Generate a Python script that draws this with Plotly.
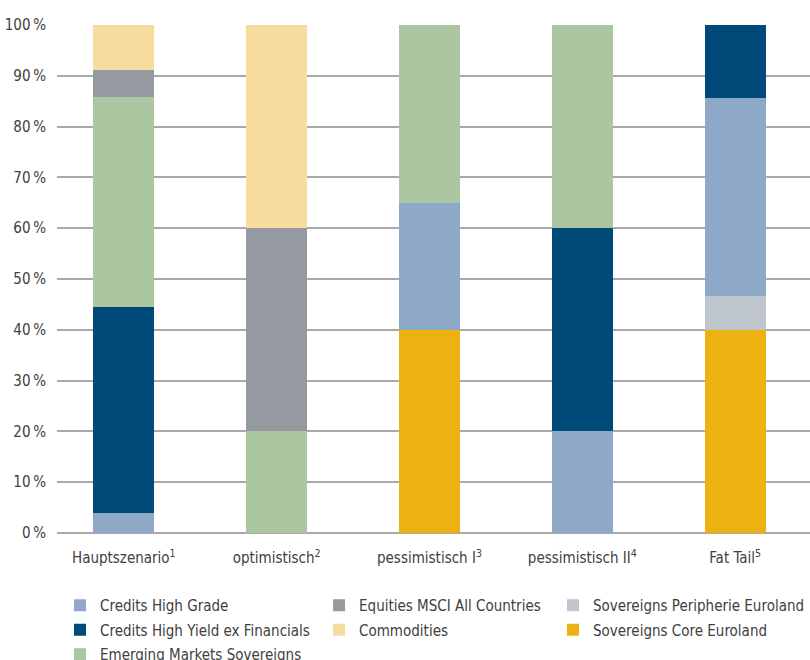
import plotly.graph_objects as go

categories = ["Hauptszenario<sup>1</sup>", "optimistisch<sup>2</sup>", "pessimistisch I<sup>3</sup>",
              "pessimistisch II<sup>4</sup>", "Fat Tail<sup>5</sup>"]

# values in percent, per scenario (same order as categories)
sov_core = [0, 0, 40, 0, 40]
sov_periph = [0, 0, 0, 0, 6.7]
credits_hg = [4, 0, 25, 20, 39]
credits_hy = [40.4, 0, 0, 40, 14.3]
em_sov = [41.5, 20, 35, 40, 0]
equities = [5.3, 40, 0, 0, 0]
commodities = [8.8, 40, 0, 0, 0]

y_ticks = [0, 10, 20, 30, 40, 50, 60, 70, 80, 90, 100]
y_tick_labels = [f"{v}\u2009%" for v in y_ticks]

FONT = "DejaVu Sans Condensed, Liberation Sans Narrow, sans-serif"
TXT = "#404040"

series = [
    # name, values, color, legend, rank
    ("Sovereigns Core Euroland", sov_core, "#edb212", "legend3", 2),
    ("Sovereigns Peripherie Euroland", sov_periph, "#bec5cc", "legend3", 1),
    ("Credits High Grade", credits_hg, "#8ea8c8", "legend", 1),
    ("Credits High Yield ex Financials", credits_hy, "#004a7a", "legend", 2),
    ("Emerging Markets Sovereigns", em_sov, "#abc6a0", "legend", 3),
    ("Equities MSCI All Countries", equities, "#949a9f", "legend2", 1),
    ("Commodities", commodities, "#f7dca0", "legend2", 2),
]

fig = go.Figure()
for name, vals, color, leg, rank in series:
    fig.add_trace(go.Bar(
        x=categories, y=vals, name=name, width=0.4,
        marker=dict(color=color, line=dict(width=0)),
        legend=leg, legendrank=rank, legendgroup=name, hoverinfo="skip",
    ))

legend_common = dict(
    orientation="v", xanchor="left", yanchor="top",
    yref="container", y=0.1076, xref="paper",
    traceorder="grouped", tracegroupgap=2,
    font=dict(family=FONT, size=15, color=TXT),
    bgcolor="rgba(0,0,0,0)", borderwidth=0,
    itemclick=False, itemdoubleclick=False,
)

fig.update_layout(
    width=810, height=660,
    margin=dict(l=57, r=0, t=25, b=127),
    barmode="stack",
    paper_bgcolor="white", plot_bgcolor="white",
    font=dict(family=FONT, size=15, color=TXT),
    showlegend=True,
    legend=dict(x=0.004, **legend_common),
    legend2=dict(x=0.348, **legend_common),
    legend3=dict(x=0.6733, **legend_common),
    xaxis=dict(
        type="category", range=[-0.437, 4.49], showgrid=False, zeroline=False,
        showline=False, ticks="", ticklabelstandoff=14,
        tickfont=dict(family=FONT, size=15, color=TXT),
    ),
    yaxis=dict(
        range=[0, 100], tickvals=y_ticks, ticktext=y_tick_labels,
        showgrid=True, gridcolor="#a9a9a9", gridwidth=1.5,
        zeroline=True, zerolinecolor="#a9a9a9", zerolinewidth=1.5,
        showline=False, ticks="", ticklabelstandoff=10,
        tickfont=dict(family=FONT, size=15, color=TXT),
    ),
)

fig.write_html("out.html")
